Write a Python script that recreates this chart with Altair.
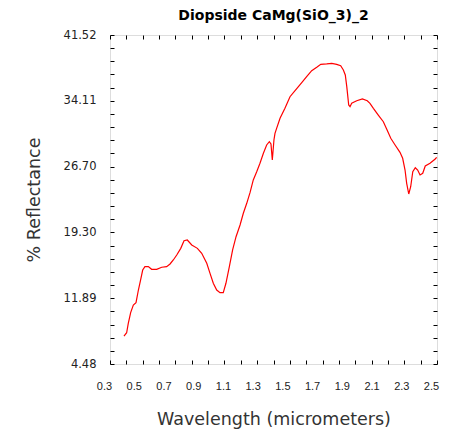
import altair as alt
import pandas as pd

# Diopside reflectance spectrum (wavelength in micrometers, reflectance in %)
wavelength = [
    0.394, 0.412, 0.423, 0.439, 0.457, 0.475, 0.491, 0.506, 0.520, 0.535,
    0.558, 0.580, 0.614, 0.648, 0.681, 0.704, 0.726, 0.749, 0.776, 0.798,
    0.820, 0.850, 0.888, 0.917, 0.951, 0.973, 0.995, 1.018, 1.040, 1.062,
    1.080, 1.103, 1.125, 1.148, 1.175, 1.197, 1.220, 1.242, 1.264, 1.287,
    1.309, 1.332, 1.354, 1.372, 1.383, 1.392, 1.403, 1.410, 1.421, 1.444,
    1.477, 1.511, 1.545, 1.590, 1.623, 1.657, 1.691, 1.718, 1.758, 1.792,
    1.825, 1.852, 1.870, 1.883, 1.893, 1.906, 1.915, 1.926, 1.960, 1.998,
    2.031, 2.049, 2.072, 2.105, 2.139, 2.162, 2.189, 2.218, 2.251, 2.269,
    2.285, 2.296, 2.310, 2.323, 2.337, 2.354, 2.370, 2.386, 2.404, 2.421,
    2.453, 2.486, 2.498,
]
reflectance = [
    7.63, 8.00, 9.06, 10.26, 11.12, 11.38, 12.81, 13.94, 15.06, 15.44,
    15.44, 15.14, 15.14, 15.37, 15.44, 15.74, 16.19, 16.75, 17.50, 18.36,
    18.44, 17.88, 17.50, 16.94, 15.82, 14.69, 13.57, 12.81, 12.51, 12.51,
    13.57, 15.44, 17.32, 18.81, 20.13, 21.45, 22.57, 23.77, 25.20, 26.13,
    27.08, 28.20, 29.14, 29.51, 29.25, 27.45, 29.70, 30.45, 31.01, 32.14,
    33.27, 34.57, 35.25, 36.15, 36.83, 37.50, 37.88, 38.22, 38.26, 38.33,
    38.22, 38.06, 37.58, 37.02, 35.70, 33.64, 33.45, 33.83, 34.12, 34.32,
    34.12, 33.83, 33.27, 32.51, 31.76, 30.90, 29.89, 29.14, 28.31, 27.64,
    26.32, 24.82, 23.62, 24.44, 26.13, 26.58, 26.32, 25.76, 25.95, 26.77,
    27.08, 27.53, 27.75,
]

x_labels = [0.3, 0.5, 0.7, 0.9, 1.1, 1.3, 1.5, 1.7, 1.9, 2.1, 2.3, 2.5]
y_labels = [4.48, 11.89, 19.30, 26.70, 34.11, 41.52]

X_MIN, X_MAX = 0.3, 2.5
Y_MIN, Y_MAX = 4.48, 41.52
x_minor = [X_MIN + (X_MAX - X_MIN) * i / 20 for i in range(21)]
y_minor = [Y_MIN + (Y_MAX - Y_MIN) * i / 25 for i in range(26)]

df = pd.DataFrame({"wavelength": wavelength, "reflectance": reflectance})

NARROW = "Liberation Sans"
WIDE = "DejaVu Sans"
x_scale = alt.Scale(domain=[X_MIN, X_MAX], nice=False, zero=False)
y_scale = alt.Scale(domain=[Y_MIN, Y_MAX], nice=False, zero=False)

base = alt.Chart(df)

# Spectrum line with labelled axes
spectrum = base.mark_line(color="#ff0000", strokeWidth=1.2).encode(
    x=alt.X(
        "wavelength:Q",
        scale=x_scale,
        axis=alt.Axis(
            orient="bottom", values=x_labels, format=".1f", ticks=False,
            domain=False, grid=False, labelFlush=False, labelPadding=16,
            labelOffset=-6, labelFont=NARROW, labelFontSize=11,
            labelColor="#222222",
            title="Wavelength (micrometers)", titleFont=WIDE, titleFontSize=17.5,
            titleFontWeight="normal", titleColor="#333333", titlePadding=19,
        ),
    ),
    y=alt.Y(
        "reflectance:Q",
        scale=y_scale,
        axis=alt.Axis(
            orient="left", values=y_labels, format=".2f", ticks=False,
            domain=False, grid=False, labelFlush=False, labelPadding=14,
            labelFont=WIDE, labelFontSize=11.5, labelColor="#222222",
            title="% Reflectance", titleFont=WIDE, titleFontSize=17.5,
            titleFontWeight="normal", titleColor="#333333", titlePadding=20,
        ),
    ),
)


def tick_axis(orient, values):
    return alt.Axis(
        orient=orient, values=values, labels=False, domain=False, grid=False,
        title=None, ticks=True, tickSize=4, offset=-4, tickColor="#000000",
        tickWidth=1,
    )


# Invisible layers that carry the inward minor tick marks on each side
def tick_layer(x_orient, y_orient):
    return base.mark_line(strokeOpacity=0).encode(
        x=alt.X("wavelength:Q", scale=x_scale, axis=tick_axis(x_orient, x_minor)),
        y=alt.Y("reflectance:Q", scale=y_scale, axis=tick_axis(y_orient, y_minor)),
    )


chart = (
    alt.layer(spectrum, tick_layer("top", "right"), tick_layer("bottom", "left"))
    .resolve_axis(x="independent", y="independent")
    .properties(
        width=327,
        height=329,
        title=alt.TitleParams(
            "Diopside CaMg(SiO_3)_2", font=WIDE, fontSize=14, fontWeight="bold",
            color="#000000", anchor="middle", offset=6,
        ),
        autosize=alt.AutoSizeParams(type="none"),
        padding={"left": 110, "top": 35, "right": 17, "bottom": 68},
    )
    .configure_view(stroke="#000000", strokeWidth=2)
    .configure(background="#ffffff")
)

chart.save("out.html", embed_options={"renderer": "svg", "actions": False})
